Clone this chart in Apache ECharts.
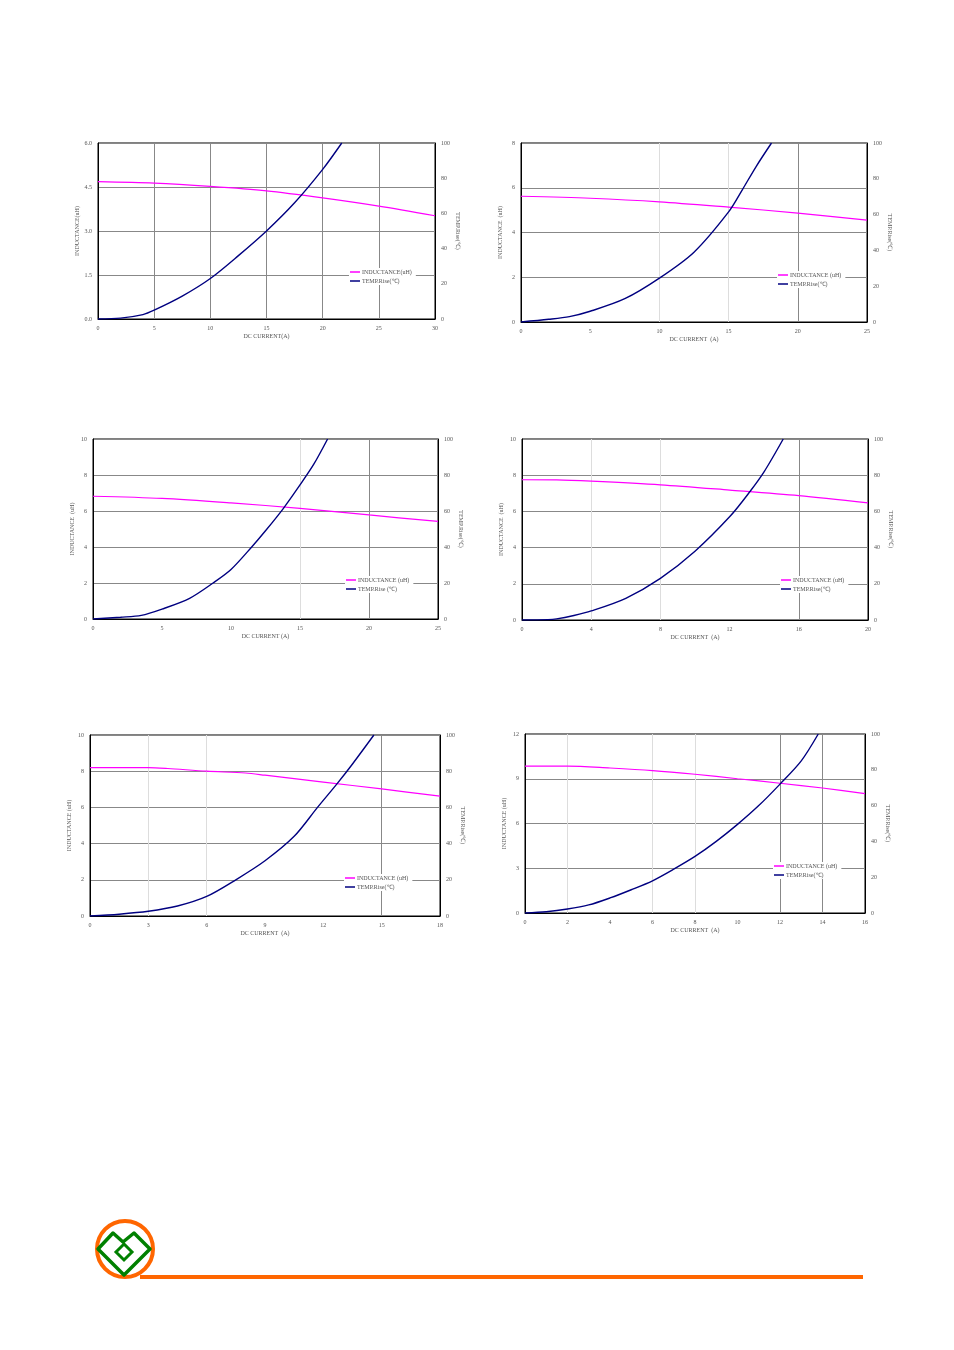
<!DOCTYPE html>
<html><head><meta charset="utf-8">
<script src="https://cdn.jsdelivr.net/npm/echarts@6/dist/echarts.min.js"></script>
<style>html,body{margin:0;padding:0;background:#fff}#c{width:954px;height:1350px}</style>
</head><body><div id="c"></div>
<script>
// ---- data ----
const ind1 = [[0,4.68],[5,4.63],[10,4.52],[15,4.37],[20,4.13],[25,3.85],[30,3.52]];
const temp1 = [[0,0],[2,0.5],[4,2.5],[5,5],[7.5,13],[10,23],[12.5,36],[15,50],[17.5,66],[20,85],[21.7,100]];
const ind2 = [[0,5.62],[5,5.53],[10,5.37],[15,5.13],[20,4.87],[25,4.55]];
const temp2 = [[0,0],[2,1.5],[3.5,3],[5,6],[7.5,13],[10,24.5],[12.5,39],[15,61.5],[16,74],[17,87],[18.1,100]];
const ind3 = [[0,6.82],[5,6.7],[10,6.45],[15,6.15],[20,5.78],[25,5.42]];
const temp3 = [[0,0],[2,1],[3.5,2],[5,5.5],[7,11.5],[8.7,20],[10,27.5],[11.5,40],[12.5,49],[13.8,61.5],[15,74.5],[16,86],[17,100]];
const ind4 = [[0,7.75],[2,7.74],[4,7.67],[8,7.47],[12,7.18],[16,6.87],[20,6.47]];
const temp4 = [[0,0],[1.5,0.2],[2,0.6],[3,2.5],[4,5],[6,12],[8,23],[10,38],[12,57],[13.1,70],[14,82],[15.1,100]];
const ind5 = [[0,8.2],[3,8.2],[4,8.15],[6,8.0],[8,7.9],[9,7.78],[12,7.4],[15,7.02],[18,6.62]];
const temp5 = [[0,0],[1.5,1],[3,2.6],[4.5,5.5],[6,10.8],[7.5,20],[9,30.5],[10.5,44],[11.7,60],[12.7,73],[13.5,84],[14.6,100]];
const ind6 = [[0,9.85],[2,9.85],[4,9.72],[6,9.55],[8,9.3],[10,9.0],[12,8.7],[14,8.38],[16,8.0]];
const temp6 = [[0,0],[1,0.7],[2,2.2],[3,4.5],[4,8.4],[5,13],[6,18],[7,24.5],[8,31.6],[9,40],[10,49.5],[11,60],[12,72],[13,85],[13.8,100]];
const xNames = ['DC CURRENT(A)','DC CURRENT  (A)','DC CURRENT (A)','DC CURRENT  (A)','DC CURRENT  (A)','DC CURRENT  (A)'];
const yNames = ['INDUCTANCE(uH)','INDUCTANCE  (uH)','INDUCTANCE  (uH)','INDUCTANCE  (uH)','INDUCTANCE (uH)','INDUCTANCE (uH)'];
const tNames = ['TEMP.Rise(℃)','TEMP.Rise(℃)','TEMP.Rise(℃)','TEMP.Rise(℃)','TEMP.Rise(℃)','TEMP.Rise(℃)'];
const xMax = [30,25,25,20,18,16], xInt = [5,5,5,4,3,2];
const yMax = [6,8,10,10,10,12], yInt = [1.5,2,2,2,2,3];
// ---- layout ----
const D='#888', L='#ddd', N='transparent';
const vColors = [
  [D,D,D,D,D,D,D],
  [N,N,L,L,D,N],
  [N,N,N,L,D,N],
  [N,L,L,N,D,N],
  [N,L,L,N,N,D,N],
  [N,L,N,L,L,N,D,D,N]
];
const grids = [
  {left:98,top:143,width:337,height:176},
  {left:521,top:143,width:346,height:179},
  {left:93,top:439,width:345,height:180},
  {left:522,top:439,width:346,height:181},
  {left:90,top:735,width:350,height:181},
  {left:525,top:734,width:340,height:179}
];
const legPos = [[349,268],[777,271],[345,576],[780,576],[344,874],[773,862]];
const ind=[ind1,ind2,ind3,ind4,ind5,ind6], temp=[temp1,temp2,temp3,temp4,temp5,temp6];
const font='Liberation Serif', tc='#555';
const opt={animation:false,backgroundColor:'#fff',grid:[],xAxis:[],yAxis:[],series:[],legend:[],graphic:[]};
for(let i=0;i<6;i++){
  opt.grid.push(Object.assign({show:true,borderColor:'#000',borderWidth:1,backgroundColor:'#fff'},grids[i]));
  opt.xAxis.push({type:'value',gridIndex:i,min:0,max:xMax[i],interval:xInt[i],name:xNames[i],nameLocation:'middle',nameGap:14,
    nameTextStyle:{fontFamily:font,fontSize:6,color:tc},axisLabel:{fontFamily:font,fontSize:6,color:tc,margin:6},
    axisLine:{lineStyle:{color:'#000'}},axisTick:{show:false},splitLine:{show:true,lineStyle:{color:vColors[i],width:1}}});
  opt.yAxis.push({type:'value',gridIndex:i,min:0,max:yMax[i],interval:yInt[i],name:yNames[i],nameLocation:'middle',nameGap:18,nameRotate:90,
    nameTextStyle:{fontFamily:font,fontSize:6,color:tc},axisLabel:{fontFamily:font,fontSize:6,color:tc,margin:6,formatter:i==0?(v=>v.toFixed(1)):null},
    axisLine:{show:true,lineStyle:{color:'#000'}},axisTick:{show:false},splitLine:{show:true,lineStyle:{color:'#888'}}});
  opt.yAxis.push({type:'value',gridIndex:i,position:'right',min:0,max:100,interval:20,name:tNames[i],nameLocation:'middle',nameGap:20,nameRotate:-90,
    nameTextStyle:{fontFamily:font,fontSize:6,color:tc},axisLabel:{fontFamily:font,fontSize:6,color:tc,margin:6},
    axisLine:{show:true,lineStyle:{color:'#000'}},axisTick:{show:false},splitLine:{show:false}});
  const n1='INDUCTANCE'+(i==0?'(uH)':' (uH)')+'\u200b'.repeat(i), n2=(i==2?'TEMP.Rise (℃)':'TEMP.Rise(℃)')+'\u200b'.repeat(i);
  opt.series.push({name:n1,type:'line',xAxisIndex:i,yAxisIndex:2*i,data:ind[i],smooth:0.3,symbol:'none',lineStyle:{color:'#ff00ff',width:1.2},itemStyle:{color:'#ff00ff'}});
  opt.series.push({name:n2,type:'line',xAxisIndex:i,yAxisIndex:2*i+1,data:temp[i],smooth:0.3,symbol:'none',lineStyle:{color:'#000080',width:1.4},itemStyle:{color:'#000080'}});
  opt.legend.push({data:[n1,n2],left:legPos[i][0],top:legPos[i][1],orient:'vertical',icon:'rect',itemWidth:10,itemHeight:1.5,itemGap:3,
    padding:[1,4,1,1],backgroundColor:'#fff',textStyle:{fontFamily:font,fontSize:6,color:tc,padding:[0,0,0,-3]}});
}
// logo
opt.graphic=[
  {type:'line',shape:{x1:140,y1:1277,x2:863,y2:1277},style:{stroke:'#ff6600',lineWidth:4}},
  {type:'circle',shape:{cx:125,cy:1249,r:28},style:{fill:'none',stroke:'#ff6600',lineWidth:4}},
  {type:'polygon',shape:{points:[[98,1249],[113,1233],[123,1242],[134,1233],[150,1249],[124,1275]]},style:{fill:'none',stroke:'#008000',lineWidth:3.5,lineJoin:'round'}},
  {type:'polygon',shape:{points:[[124,1244],[132,1252],[124,1260],[116,1252]]},style:{fill:'none',stroke:'#008000',lineWidth:3}}
];
echarts.init(document.getElementById('c')).setOption(opt);
</script></body></html>
